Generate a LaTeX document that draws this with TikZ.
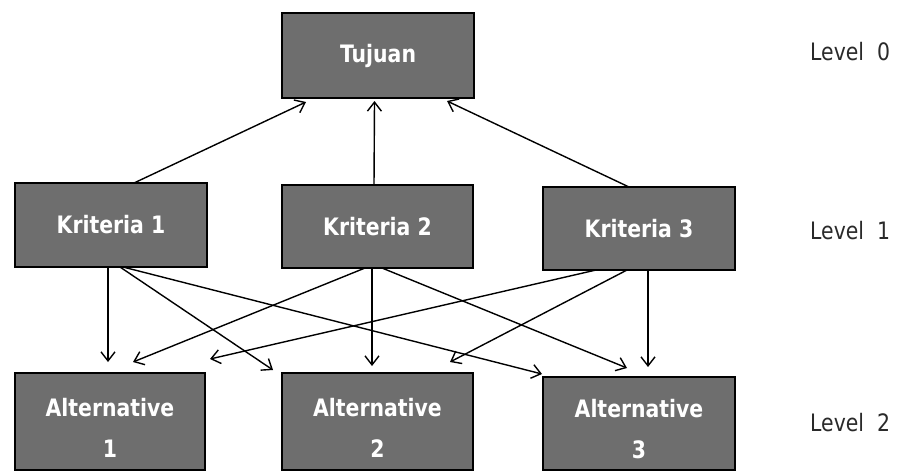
\documentclass[tikz,border=0pt]{standalone}
\usepackage{fontspec}
\setmainfont{DejaVu Sans}[FakeStretch=0.85]
\usetikzlibrary{arrows.meta}
\definecolor{boxfill}{HTML}{6E6E6E}
\definecolor{lvl}{HTML}{2A2A2A}
\begin{document}
\begin{tikzpicture}[x=1pt,y=-1pt,
  hbox/.style={draw=black, line width=2.5pt, fill=boxfill, text=white,
    font=\fontsize{24}{29}\selectfont\bfseries, align=center,
    minimum width=192pt, inner sep=0pt, outer sep=0pt},
  lvltext/.style={text=lvl, font=\fontsize{24}{29}\selectfont, anchor=west, inner sep=0pt},
  conn/.style={line width=1.4pt, -{Straight Barb[length=9pt,width=14pt,line width=1.4pt]}}]
\useasboundingbox[fill=white] (0,0) rectangle (901,472);
% boxes
\node[hbox, minimum height=85pt] (t) at (378,55.5) {Tujuan};
\node[hbox, minimum height=84pt] (k1) at (111,225) {Kriteria 1};
\node[hbox, minimum height=83pt, minimum width=191pt] (k2) at (377.5,226.5) {Kriteria 2};
\node[hbox, minimum height=83pt] (k3) at (639,228.5) {Kriteria 3};
\node[hbox, minimum height=97pt, minimum width=190pt] (a1) at (110,421.5) {\rule{0pt}{30pt}Alternative\\[12pt]1};
\node[hbox, minimum height=97pt, minimum width=191pt] (a2) at (377.5,421.5) {\rule{0pt}{30pt}Alternative\\[12pt]2};
\node[hbox, minimum height=93pt] (a3) at (639,423.5) {\rule{0pt}{30pt}Alternative\\[12pt]3};
% level labels
\node[lvltext] (l0) at (810,52) {Level\ \ 0};
\node[lvltext] (l1) at (810,231) {Level\ \ 1};
\node[lvltext] (l2) at (810,423) {Level\ \ 2};
% upward arrows
\draw[conn] ([xshift=23pt]k1.north) -- ([xshift=-72pt,yshift=-4pt]t.south);
\draw[conn] ([xshift=-3.5pt]k2.north) -- ([xshift=-3.5pt,yshift=-3pt]t.south);
\draw[conn] ([xshift=-10pt]k3.north) -- ([xshift=69pt,yshift=-3pt]t.south);
% downward arrows
\draw[conn] ([xshift=-3pt]k1.south) -- ([xshift=-2pt,yshift=11pt]a1.north);
\draw[conn] ([xshift=9pt]k1.south) -- ([xshift=-104.5pt,yshift=3pt]a2.north);
\draw[conn] ([xshift=12pt]k1.south) -- ([xshift=-97pt,yshift=3pt]a3.north);
\draw[conn] ([xshift=-12.5pt]k2.south) -- ([xshift=23pt,yshift=11pt]a1.north);
\draw[conn] ([xshift=-5.5pt]k2.south) -- ([xshift=-5.5pt,yshift=7pt]a2.north);
\draw[conn] ([xshift=4.5pt]k2.south) -- ([xshift=-12pt,yshift=9pt]a3.north);
\draw[conn] ([xshift=-43pt]k3.south) -- ([xshift=100pt,yshift=14pt]a1.north);
\draw[conn] ([xshift=-12pt]k3.south) -- ([xshift=72.5pt,yshift=11pt]a2.north);
\draw[conn] ([xshift=9pt]k3.south) -- ([xshift=9pt,yshift=10pt]a3.north);
\end{tikzpicture}
\end{document}
